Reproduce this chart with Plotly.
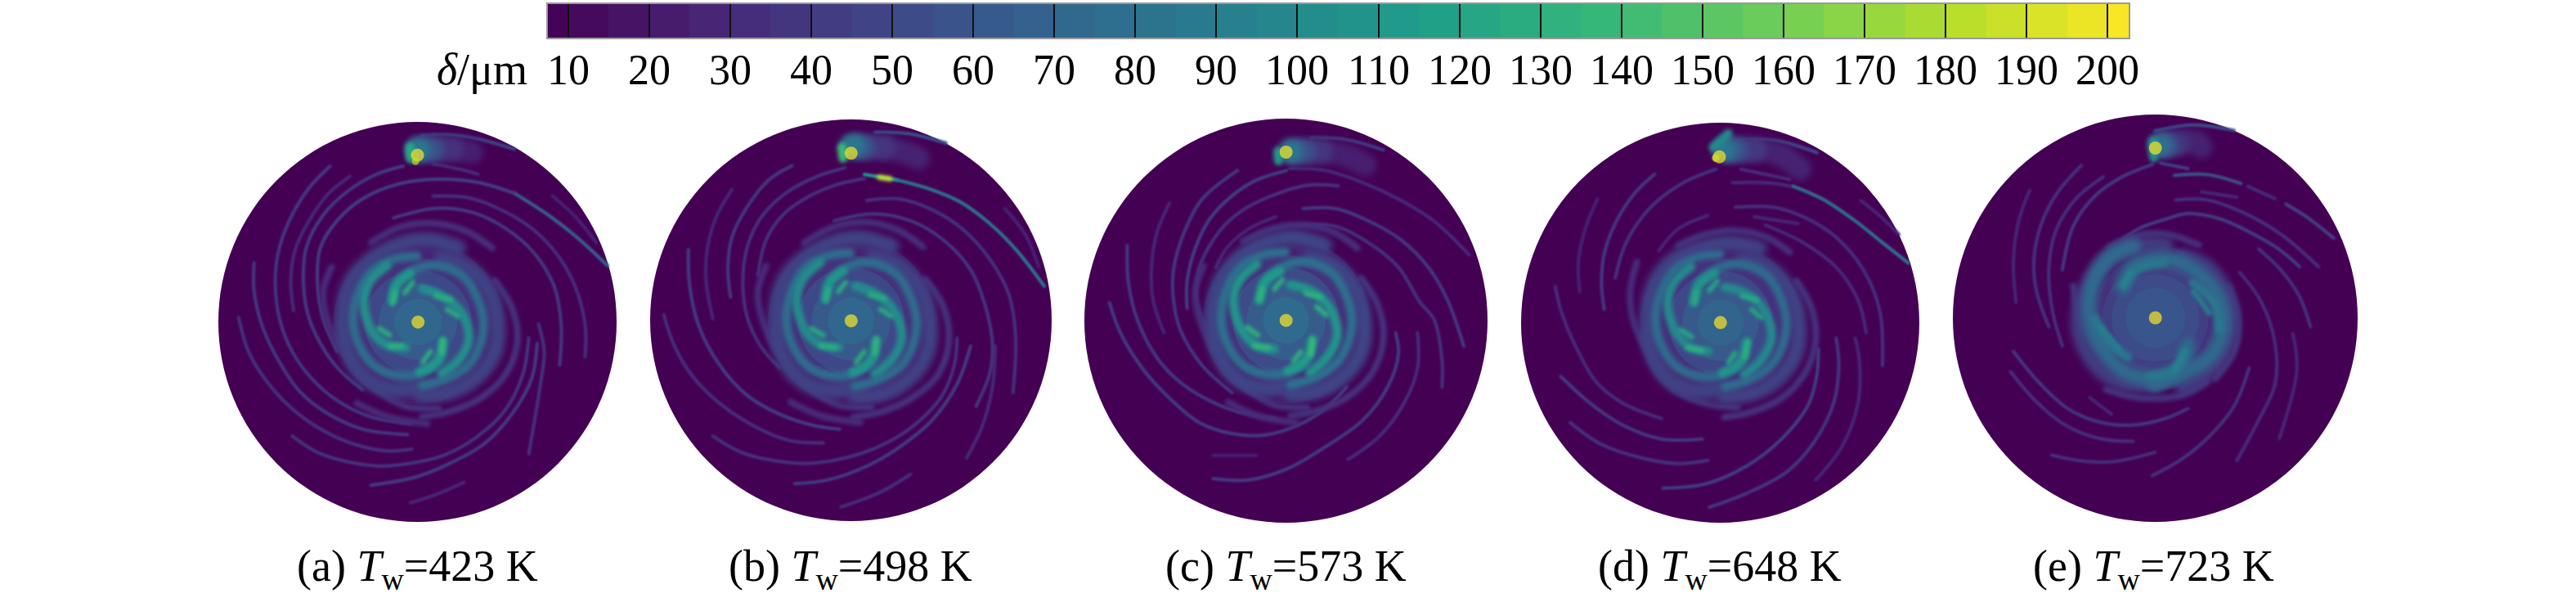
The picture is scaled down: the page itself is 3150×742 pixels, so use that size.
import plotly.graph_objects as go
from plotly.colors import sample_colorscale

# colour bar
tick_values = [10, 20, 30, 40, 50, 60, 70, 80, 90, 100, 110, 120, 130, 140, 150, 160, 170, 180, 190, 200]
tick_labels = [str(v) for v in tick_values]
captions = ["(a) <i>T</i><sub>w</sub>=423 K", "(b) <i>T</i><sub>w</sub>=498 K", "(c) <i>T</i><sub>w</sub>=573 K",
            "(d) <i>T</i><sub>w</sub>=648 K", "(e) <i>T</i><sub>w</sub>=723 K"]
caption_centres_px = [510, 1040, 1572, 2103, 2633]
delta_min, delta_max = 7.4, 202.7

# where each disc sits in the page, and the extent of the disc in the units the curves were read in
disc_px = [(267, 754, 149, 638), (795, 1286, 146, 637), (1326, 1819, 145, 639), (1860, 2347, 150, 639), (2388, 2883, 140, 638)]
disc_units = [(78, 1492, 58, 1525), (45, 1517, 48, 1522), (18, 1497, 15, 1497), (25, 1485, 30, 1497), (18, 1503, 12, 1505)]
centres = [(787, 792), (782, 787), (758, 755), (756, 763), (761, 757)]

# film thickness of the central patch, outer to inner
a_glow_r = [300, 270, 235, 190, 140, 85]
a_glow_v = [20, 26, 36, 50, 62, 72]
b_glow_r = [305, 275, 240, 195, 145, 85]
b_glow_v = [20, 26, 36, 50, 62, 72]
c_glow_r = [305, 275, 240, 195, 145, 85]
c_glow_v = [20, 26, 36, 52, 64, 74]
d_glow_r = [295, 265, 235, 190, 140, 85]
d_glow_v = [20, 26, 36, 50, 62, 70]
e_glow_r = [265, 230, 195, 160, 110]
e_glow_v = [24, 34, 44, 52, 60]

# (x, y, thickness)
a_dots = [(785, 180, 202), (787, 792, 202), (778, 203, 185)]
# (thickness, points)
a_comet = [(24, [(790, 160), (880, 155), (978, 170)]), (36, [(790, 158), (908, 158)]), (58, [(790, 160), (838, 160)]), (84, [(786, 160), (790, 160)])]
a_head = [(125, [(758, 150), (760, 192)])]
a_streaks = [
    (46, [(800, 108), (900, 105), (1000, 120), (1130, 158)]), (32, [(840, 212), (950, 235), (1000, 250)]),
    (70, [(1130, 320), (1250, 400), (1350, 480), (1460, 585)]),
    (36, [(150, 775), (185, 900), (250, 1010), (340, 1110), (450, 1190), (560, 1240), (680, 1265), (765, 1258)]),
    (40, [(205, 575), (205, 680), (235, 810), (290, 930), (370, 1050), (470, 1130), (590, 1185), (750, 1205)]),
    (40, [(475, 220), (400, 300), (330, 420), (290, 540), (280, 650), (295, 780), (340, 900), (410, 1000), (500, 1080), (620, 1140), (760, 1165)]),
    (30, [(545, 258), (470, 320), (400, 420), (350, 530), (335, 640), (345, 750)]),
    (42, [(735, 220), (640, 250), (540, 310), (450, 400), (390, 520), (380, 640), (395, 760), (440, 870), (510, 970), (590, 1040)]),
    (44, [(1130, 320), (1000, 280), (860, 268), (720, 285), (590, 340), (500, 420), (440, 520), (430, 650), (450, 780), (500, 900)]),
    (34, [(840, 330), (960, 335), (1060, 370), (1180, 440), (1270, 530), (1340, 650), (1380, 800), (1380, 920)]),
    (26, [(1265, 330), (1340, 400), (1420, 500)]),
    (40, [(700, 410), (850, 375), (980, 390), (1100, 450), (1200, 540), (1270, 660), (1295, 800), (1290, 950)]),
    (42, [(620, 1390), (780, 1360), (900, 1310), (1020, 1240), (1120, 1130), (1190, 1000), (1210, 870)]),
    (36, [(1215, 800), (1235, 900), (1220, 1030), (1180, 1275)]),
    (38, [(340, 1210), (430, 1270), (540, 1305), (650, 1320), (760, 1310), (880, 1280), (1000, 1210), (1100, 1110), (1160, 980), (1180, 850)]),
    (28, [(760, 1455), (850, 1425), (950, 1380)]),
]
a_rings = [
    (34, [(620, 500), (720, 445), (840, 430), (960, 460), (1050, 520)]),
    (36, [(1060, 640), (1120, 740), (1140, 860), (1100, 980), (1010, 1070), (900, 1120), (800, 1140)]),
    (36, [(520, 830), (560, 950), (640, 1040), (740, 1100), (860, 1110)]),
    (32, [(480, 590), (450, 680), (470, 800), (520, 900)]),
    (32, [(570, 1090), (680, 1140), (820, 1165)]),
]
a_bands = [
    (46, [(802, 1025), (700, 1040), (600, 1000), (535, 900), (520, 770), (545, 650), (610, 570), (710, 510), (820, 490), (930, 520)]),
    (46, [(870, 560), (960, 590), (1040, 680), (1070, 790), (1060, 900), (1000, 990), (900, 1050), (800, 1060)]),
]
a_arms = [
    (76, [(696, 710), (711, 650), (773, 600), (860, 585), (947, 625), (996, 700), (1020, 790), (1006, 880), (967, 950), (890, 1000), (802, 1025)]),
    (76, [(870, 875), (860, 930), (793, 980), (706, 985), (628, 950), (570, 860), (556, 780), (575, 680), (628, 600), (706, 560), (783, 550)]),
    (104, [(802, 670), (860, 690), (918, 730), (957, 790), (967, 860), (933, 930), (870, 980)]),
    (104, [(744, 885), (686, 880), (633, 840), (604, 780), (595, 710), (619, 640), (677, 585)]),
    (112, [(696, 710), (711, 655), (759, 615)]),
    (112, [(875, 860), (870, 910), (841, 950), (793, 975)]),
]
a_cores = [(132, [(696, 725), (706, 680)]), (128, [(740, 685), (769, 645)]), (130, [(851, 695), (904, 710)]), (128, [(890, 745), (928, 770)]),
           (138, [(875, 860), (870, 905)]), (130, [(803, 940), (831, 900)]), (132, [(686, 880), (730, 880)]), (130, [(648, 815), (686, 840)])]

b_dots = [(782, 172, 202), (782, 787, 202)]
b_comet = [(26, [(800, 150), (950, 160), (1028, 190)]), (38, [(800, 148), (903, 150)]), (58, [(800, 148), (828, 150)]), (84, [(782, 145), (793, 145)])]
b_head = [(140, [(748, 150), (752, 190)])]
b_streaks = [
    (54, [(870, 95), (990, 100), (1130, 135)]), (115, [(830, 250), (880, 258), (950, 270)]),
    (84, [(950, 270), (1060, 300), (1180, 350), (1290, 430), (1390, 530), (1490, 660)]),
    (40, [(565, 218), (480, 270), (400, 370), (345, 480), (330, 600), (340, 700)]),
    (28, [(345, 305), (290, 400), (255, 520), (250, 640), (275, 780)]),
    (34, [(95, 765), (130, 870), (200, 990), (300, 1090), (420, 1170), (550, 1225), (680, 1235)]),
    (42, [(185, 525), (190, 660), (225, 810), (300, 950), (400, 1060), (520, 1130), (640, 1170), (740, 1185)]),
    (36, [(760, 225), (650, 260), (540, 320), (450, 410), (400, 520), (385, 640), (400, 770), (450, 880), (520, 960)]),
    (36, [(830, 265), (720, 290), (610, 340), (530, 400), (470, 490), (440, 620)]),
    (36, [(275, 1210), (380, 1270), (500, 1300), (620, 1310), (760, 1290), (880, 1250), (1000, 1180), (1110, 1070), (1160, 950), (1170, 850)]),
    (42, [(575, 1385), (700, 1370), (840, 1320), (960, 1250), (1080, 1150), (1170, 1020), (1220, 880)]),
    (34, [(745, 1470), (880, 1420), (1000, 1350)]),
    (30, [(1205, 1290), (1260, 1180), (1300, 1030), (1310, 880)]),
    (36, [(840, 345), (960, 340), (1080, 380), (1190, 450), (1290, 560), (1360, 690), (1385, 850), (1375, 1050)]),
    (26, [(1345, 375), (1420, 470), (1470, 590)]),
    (38, [(720, 420), (860, 395), (1000, 420), (1120, 490), (1220, 600), (1270, 720), (1300, 870), (1290, 980), (1240, 1100)]),
]
b_rings = [
    (34, [(610, 500), (710, 445), (830, 425), (955, 455), (1045, 515)]),
    (36, [(1055, 635), (1120, 735), (1140, 860), (1100, 985), (1005, 1070), (895, 1120), (790, 1140)]),
    (36, [(505, 825), (545, 950), (630, 1035), (730, 1095), (855, 1105)]),
    (32, [(470, 585), (440, 680), (460, 795), (510, 900)]),
    (32, [(560, 1085), (670, 1135), (815, 1160)]),
]
b_bands = [
    (46, [(797, 1027), (690, 1042), (590, 1000), (522, 898), (507, 765), (532, 645), (600, 563), (702, 503), (815, 483), (930, 513)]),
    (46, [(865, 553), (958, 584), (1040, 677), (1071, 790), (1061, 903), (1000, 995), (895, 1057), (797, 1063)]),
]
b_arms = [
    (76, [(688, 703), (704, 641), (768, 589), (857, 574), (947, 615), (997, 692), (1022, 785), (1008, 878), (967, 950), (888, 1001), (797, 1027)]),
    (76, [(868, 872), (857, 929), (788, 981), (699, 986), (618, 950), (558, 857), (544, 775), (564, 672), (618, 589), (699, 548), (778, 538)]),
    (102, [(798, 660), (857, 680), (917, 722), (957, 785), (967, 857), (932, 929), (868, 981)]),
    (102, [(737, 883), (677, 878), (623, 837), (593, 775), (582, 703), (607, 631), (668, 574)]),
    (110, [(688, 703), (704, 645), (752, 605)]),
    (110, [(873, 857), (868, 908), (838, 950), (788, 976)]),
]
b_cores = [(128, [(688, 715), (698, 672)]), (126, [(735, 680), (762, 645)]), (128, [(850, 690), (905, 705)]), (126, [(890, 745), (930, 770)]),
           (136, [(875, 855), (868, 905)]), (128, [(800, 940), (830, 900)]), (130, [(670, 878), (725, 885)]), (126, [(635, 815), (680, 840)]),
           (190, [(885, 260), (925, 266)])]

c_dots = [(758, 138, 202), (758, 755, 202)]
c_comet = [(24, [(800, 135), (960, 145), (1048, 185)]), (38, [(790, 135), (888, 135)]), (58, [(785, 135), (823, 135)]), (84, [(772, 135), (776, 135)])]
c_head = [(112, [(728, 135), (730, 170)])]
c_streaks = [
    (42, [(850, 85), (980, 92), (1115, 130)]),
    (40, [(580, 205), (450, 310), (385, 430), (345, 570), (345, 680), (370, 790), (450, 920), (560, 1020)]),
    (28, [(330, 325), (285, 430), (265, 550), (270, 680), (310, 800)]),
    (40, [(175, 480), (180, 620), (215, 760), (290, 900), (380, 990), (500, 1060), (620, 1100), (720, 1115)]),
    (42, [(110, 690), (150, 800), (230, 930), (330, 1040), (440, 1130), (560, 1170), (680, 1175), (800, 1140), (900, 1080), (980, 1000)]),
    (44, [(760, 205), (650, 240), (570, 290), (480, 380), (425, 490), (395, 610), (395, 710)]),
    (36, [(950, 262), (830, 260), (700, 300), (600, 350), (520, 420), (440, 560), (430, 680), (470, 790)]),
    (28, [(720, 375), (620, 420), (540, 490), (500, 560)]),
    (30, [(770, 198), (900, 205), (1040, 250), (1170, 310), (1300, 390), (1430, 515)]),
    (40, [(820, 345), (940, 345), (1060, 390), (1180, 460), (1280, 560), (1350, 680), (1410, 850)]),
    (36, [(800, 405), (940, 410), (1060, 470), (1170, 560), (1250, 690), (1300, 750), (1330, 900), (1330, 1000)]),
    (24, [(490, 1250), (650, 1250)]),
    (42, [(490, 1335), (620, 1340), (760, 1300), (900, 1220), (1040, 1120), (1130, 1000), (1170, 880), (1160, 800)]),
    (32, [(985, 1265), (1100, 1180), (1190, 1060), (1240, 930), (1240, 800)]),
]
c_rings = [
    (34, [(600, 465), (700, 420), (810, 405), (930, 430), (1020, 490)]),
    (36, [(1035, 600), (1095, 700), (1115, 820), (1075, 945), (985, 1035), (875, 1085), (775, 1105)]),
    (36, [(495, 795), (535, 915), (615, 1005), (715, 1065), (835, 1075)]),
    (32, [(455, 555), (425, 650), (445, 765), (495, 865)]),
    (32, [(545, 1055), (655, 1105), (795, 1130)]),
]
c_bands = [
    (48, [(775, 990), (670, 1005), (570, 965), (505, 865), (490, 735), (515, 615), (580, 530), (680, 470), (790, 450), (900, 480)]),
    (48, [(845, 525), (935, 555), (1015, 645), (1045, 755), (1035, 865), (975, 955), (875, 1015), (775, 1025)]),
]
c_arms = [
    (78, [(660, 680), (675, 615), (740, 560), (830, 540), (925, 580), (975, 655), (1000, 750), (985, 840), (945, 910), (865, 965), (775, 990)]),
    (78, [(845, 840), (835, 895), (765, 945), (675, 950), (595, 915), (535, 825), (520, 740), (540, 640), (595, 555), (675, 515), (755, 505)]),
    (108, [(775, 625), (835, 640), (895, 680), (935, 745), (945, 815), (905, 895), (845, 945)]),
    (108, [(715, 860), (655, 850), (605, 805), (575, 745), (565, 675), (590, 605), (650, 550)]),
    (114, [(660, 680), (680, 615), (735, 575)]),
    (114, [(855, 825), (845, 875), (815, 915), (765, 940)]),
]
c_cores = [(134, [(660, 680), (670, 640)]), (130, [(715, 640), (745, 605)]), (134, [(830, 655), (885, 670)]), (132, [(870, 705), (905, 735)]),
           (140, [(855, 825), (848, 880)]), (132, [(785, 905), (812, 870)]), (136, [(640, 848), (695, 855)]), (132, [(615, 780), (655, 810)])]

d_dots = [(752, 155, 202), (756, 763, 202), (738, 160, 190)]
d_comet = [(26, [(800, 130), (960, 140), (1048, 200)]), (40, [(790, 130), (883, 130)]), (60, [(785, 130), (813, 130)]), (84, [(768, 130), (772, 130)])]
d_head = [(100, [(730, 120), (785, 70)])]
d_streaks = [
    (52, [(800, 95), (960, 95), (1110, 140)]), (32, [(830, 200), (1010, 238)]),
    (82, [(1020, 262), (1130, 310), (1250, 390), (1350, 470), (1445, 545)]),
    (28, [(1270, 315), (1350, 380), (1410, 440)]),
    (40, [(515, 218), (440, 290), (370, 400), (330, 510), (320, 620), (330, 715)]),
    (26, [(305, 310), (260, 420), (235, 540), (240, 650)]),
    (32, [(150, 630), (175, 730), (230, 860), (300, 980), (400, 1060), (540, 1115)]),
    (40, [(170, 960), (280, 1060), (400, 1140), (540, 1190), (690, 1190)]),
    (36, [(205, 1130), (320, 1210), (470, 1260), (600, 1280), (710, 1268)]),
    (36, [(740, 200), (620, 250), (500, 340), (410, 470), (370, 600)]),
    (30, [(800, 250), (920, 250), (1010, 262)]),
    (34, [(810, 340), (950, 340), (1070, 380), (1180, 450), (1280, 570), (1340, 720), (1350, 920)]),
    (28, [(710, 370), (600, 420), (530, 500)]),
    (28, [(880, 375), (1040, 400)]),
    (30, [(920, 405), (1060, 470), (1180, 560), (1260, 680), (1290, 800)]),
    (44, [(545, 1370), (700, 1355), (850, 1290), (980, 1190), (1080, 1060), (1110, 950), (1115, 860)]),
    (38, [(715, 1440), (850, 1390), (1000, 1310), (1100, 1200), (1170, 1060), (1190, 920), (1180, 820)]),
    (28, [(1105, 1340), (1200, 1220), (1260, 1060), (1265, 900), (1250, 820)]),
]
d_rings = [
    (34, [(600, 480), (700, 440), (810, 425), (925, 450), (1010, 505)]),
    (36, [(1035, 610), (1090, 710), (1105, 830), (1065, 950), (980, 1040), (870, 1090), (770, 1110)]),
    (36, [(470, 800), (510, 920), (590, 1010), (700, 1060), (820, 1075)]),
    (32, [(450, 540), (425, 650), (440, 770), (490, 870)]),
]
d_bands = [
    (46, [(773, 998), (668, 1013), (568, 973), (503, 873), (488, 743), (513, 623), (578, 538), (678, 490), (788, 470), (898, 490)]),
    (46, [(843, 533), (933, 563), (1013, 653), (1043, 763), (1033, 873), (973, 963), (873, 1023), (773, 1033)]),
]
d_arms = [
    (74, [(658, 688), (673, 623), (738, 568), (828, 548), (923, 588), (973, 663), (998, 758), (983, 848), (943, 918), (863, 973), (773, 998)]),
    (74, [(843, 848), (833, 903), (763, 953), (673, 958), (593, 923), (533, 833), (518, 748), (538, 648), (593, 563), (673, 523), (753, 513)]),
    (100, [(773, 633), (833, 648), (893, 688), (933, 753), (943, 823), (903, 903), (843, 953)]),
    (100, [(713, 868), (653, 858), (603, 813), (573, 753), (563, 683), (588, 613), (648, 558)]),
    (108, [(658, 688), (678, 623), (733, 583)]),
    (108, [(853, 833), (843, 883), (813, 923), (763, 948)]),
]
d_cores = [(124, [(660, 690), (668, 650)]), (122, [(715, 645), (745, 610)]), (126, [(835, 665), (890, 680)]), (122, [(870, 715), (905, 745)]),
           (130, [(855, 835), (845, 890)]), (124, [(785, 910), (810, 875)]), (132, [(635, 855), (690, 865)]), (124, [(610, 790), (650, 815)])]

e_dots = [(761, 135, 202), (761, 757, 202)]
e_comet = [(26, [(800, 115), (905, 110), (928, 130)]), (36, [(790, 120), (848, 120)]), (54, [(785, 125), (808, 125)]), (78, [(778, 125), (782, 125)])]
e_head = [(104, [(752, 110), (755, 170)])]
e_streaks = [
    (54, [(760, 72), (900, 50), (1050, 70)]), (44, [(780, 190), (880, 210)]),
    (58, [(830, 235), (950, 232), (1075, 265)]), (32, [(1100, 275), (1200, 320)]), (46, [(1240, 340), (1320, 390), (1415, 465)]),
    (28, [(930, 295), (1060, 315)]),
    (36, [(490, 198), (400, 300), (340, 420), (315, 550), (325, 660), (370, 790)]),
    (28, [(300, 290), (260, 400), (240, 550), (250, 700)]),
    (40, [(750, 195), (640, 240), (540, 310), (460, 420), (420, 580)]),
    (34, [(570, 240), (470, 320), (395, 440), (370, 580), (385, 740), (420, 860)]),
    (38, [(240, 880), (330, 990), (440, 1090), (560, 1140), (680, 1150), (800, 1125), (880, 1090)]),
    (34, [(230, 955), (320, 1060), (430, 1150), (560, 1200), (680, 1210)]),
    (28, [(520, 1050), (600, 1110)]),
    (34, [(380, 1260), (480, 1280), (600, 1285), (760, 1250)]),
    (34, [(835, 325), (950, 325), (1080, 370), (1220, 450), (1360, 570)]),
    (42, [(640, 470), (700, 430), (800, 395), (880, 375), (1000, 395), (1120, 450), (1220, 510), (1290, 570)]),
    (36, [(1140, 505), (1220, 580), (1290, 680), (1330, 790)]),
    (32, [(1070, 590), (1150, 700), (1200, 850), (1200, 1000), (1130, 1150), (1060, 1280)]),
    (28, [(1265, 815), (1280, 950), (1215, 1200)]),
    (36, [(1105, 940), (1050, 1080), (950, 1200), (850, 1280), (750, 1335)]),
]
e_rings = [
    (34, [(590, 500), (690, 455), (800, 450), (920, 490)]),
    (36, [(1030, 640), (1065, 760), (1050, 880), (980, 980)]),
    (36, [(460, 640), (490, 790), (560, 900)]),
    (36, [(580, 1020), (700, 1050), (860, 1040), (950, 990)]),
]
e_bands = [
    (42, [(760, 1000), (650, 1000), (560, 950), (490, 840), (480, 740), (520, 620), (590, 530), (690, 490), (800, 490)]),
    (42, [(860, 530), (950, 570), (1020, 670), (1040, 790), (1010, 890), (950, 960), (860, 1010)]),
    (74, [(640, 640), (680, 570), (790, 540), (900, 580), (990, 680), (1010, 790), (960, 900), (860, 960), (760, 1000)]),
    (74, [(880, 860), (850, 940), (760, 980), (640, 950), (560, 860), (520, 760), (530, 640), (590, 540), (680, 495)]),
]
e_arms = [(84, [(650, 640), (690, 580), (790, 555)]), (84, [(900, 630), (980, 710), (995, 800)]),
          (84, [(870, 880), (830, 950), (740, 970)]), (84, [(540, 760), (590, 850), (660, 900)])]
e_cores = [(94, [(640, 640), (670, 590)]), (94, [(900, 660), (960, 740)]), (94, [(870, 880), (830, 950)]), (92, [(560, 790), (630, 870)])]

# stroke widths in px
BAND_W, ARM_W, RING_W, CORE_W, COMET_W, STREAK_W = 19, 11, 8, 6, 28, 4
DOT_SIZE, SPOT_SIZE = 16, 9
BG_VALUE = delta_min


def shade(v):
    t = (min(v, delta_max) - delta_min) / (delta_max - delta_min)
    return sample_colorscale("Viridis", [t])[0]


# stepped scale for the bar: a new shade every 5 um
edges = [delta_min] + [v + k for v in tick_values[:-1] for k in (0, 5)] + [200, delta_max]
stepped = []
for lo, hi in zip(edges[:-1], edges[1:]):
    col = shade((lo + hi) / 2)
    stepped.append([(lo - delta_min) / (delta_max - delta_min), col])
    stepped.append([(hi - delta_min) / (delta_max - delta_min), col])

panels = [
    (a_glow_r, a_glow_v, a_rings, a_bands, a_arms, a_cores, a_streaks, a_comet, a_head, a_dots),
    (b_glow_r, b_glow_v, b_rings, b_bands, b_arms, b_cores, b_streaks, b_comet, b_head, b_dots),
    (c_glow_r, c_glow_v, c_rings, c_bands, c_arms, c_cores, c_streaks, c_comet, c_head, c_dots),
    (d_glow_r, d_glow_v, d_rings, d_bands, d_arms, d_cores, d_streaks, d_comet, d_head, d_dots),
    (e_glow_r, e_glow_v, e_rings, e_bands, e_arms, e_cores, e_streaks, e_comet, e_head, e_dots),
]

W, H = 3150, 742
BAR_LEFT, BAR_LEN = 669, 1935
fig = go.Figure()
shapes = []


def stroke(pts, color, width, xa, ya):
    fig.add_trace(go.Scatter(
        x=[p[0] for p in pts], y=[p[1] for p in pts], xaxis=xa, yaxis=ya, mode="lines",
        line=dict(color=color, width=width, shape="spline", smoothing=1.0),
        hoverinfo="skip", showlegend=False,
    ))


for i, (glow_r, glow_v, rings, bands, arms, cores, streaks, comet, head, dots) in enumerate(panels):
    n = "" if i == 0 else str(i + 1)
    xa, ya = "x" + n, "y" + n
    left, right, top, bottom = disc_px[i]
    x0, x1, y0, y1 = disc_units[i]
    cx, cy = centres[i]

    fig.layout["xaxis" + n] = dict(domain=[left / W, right / W], range=[x0, x1], visible=False, anchor=ya, fixedrange=True)
    fig.layout["yaxis" + n] = dict(domain=[1 - bottom / H, 1 - top / H], range=[y1, y0], visible=False, anchor=xa, fixedrange=True)

    # the wafer and the film patch on it
    shapes.append(dict(type="circle", xref=xa, yref=ya, x0=x0, x1=x1, y0=y0, y1=y1, layer="below",
                       fillcolor=shade(BG_VALUE), line=dict(width=0)))
    for r, v in zip(glow_r, glow_v):
        shapes.append(dict(type="circle", xref=xa, yref=ya, x0=cx - r, x1=cx + r, y0=cy - r, y1=cy + r, layer="below",
                           fillcolor=shade(v), line=dict(width=0)))

    for group, width in ((streaks, STREAK_W), (rings, RING_W), (bands, BAND_W), (arms, ARM_W), (cores, CORE_W), (comet, COMET_W), (head, ARM_W)):
        for v, pts in group:
            stroke(pts, shade(v), width, xa, ya)

    fig.add_trace(go.Scatter(
        x=[d[0] for d in dots], y=[d[1] for d in dots], xaxis=xa, yaxis=ya, mode="markers",
        marker=dict(size=[DOT_SIZE if d[2] >= 200 else SPOT_SIZE for d in dots], color=[shade(d[2]) for d in dots], line=dict(width=0)),
        hoverinfo="skip", showlegend=False,
    ))

# carrier for the colour bar
fig.add_trace(go.Scatter(
    x=[None], y=[None], mode="markers", showlegend=False, hoverinfo="skip",
    marker=dict(
        color=[delta_min], cmin=delta_min, cmax=delta_max, colorscale=stepped, showscale=True,
        colorbar=dict(
            orientation="h", x=BAR_LEFT / W, xanchor="left", xref="paper", y=1 - 4 / H, yanchor="top", yref="paper",
            lenmode="pixels", len=BAR_LEN, thicknessmode="pixels", thickness=43, xpad=0, ypad=0,
            tickmode="array", tickvals=tick_values, showticklabels=False, ticks="inside", ticklen=43,
            tickcolor="#111111", tickwidth=2, outlinecolor="#999999", outlinewidth=2, borderwidth=0,
        ),
    ),
))

serif = dict(family="Liberation Serif", color="black")
annotations = [dict(text=t, x=c / W, y=1 - 695 / H, xref="paper", yref="paper", xanchor="center", yanchor="middle",
                    showarrow=False, font=dict(size=54, **serif))
               for t, c in zip(captions, caption_centres_px)]
annotations.append(dict(text="<i>δ</i>/μm", x=647 / W, y=1 - 85 / H, xref="paper", yref="paper", xanchor="right",
                        yanchor="middle", showarrow=False, font=dict(size=54, **serif)))
for v, label in zip(tick_values, tick_labels):
    px = BAR_LEFT + (v - delta_min) / (delta_max - delta_min) * BAR_LEN
    annotations.append(dict(text=label, x=px / W, y=1 - 85 / H, xref="paper", yref="paper", xanchor="center",
                            yanchor="middle", showarrow=False, font=dict(size=52, **serif)))

fig.update_layout(
    width=W, height=H, margin=dict(l=0, r=0, t=0, b=0, autoexpand=False),
    paper_bgcolor="white", plot_bgcolor="rgba(0,0,0,0)", shapes=shapes, annotations=annotations, showlegend=False,
)

# no page margin; soft round-ended strokes, since the original is a smoothed field
soften = """
document.body.style.margin = '0';
document.querySelectorAll('.scatterlayer path.js-line').forEach(function (p) {
    var w = parseFloat(p.style.strokeWidth);
    var b = w <= 4 ? 1.1 : (w <= 6 ? 2.2 : Math.min(w * 0.25, 4));
    p.style.strokeLinecap = 'round';
    p.style.filter = 'blur(' + b + 'px)';
});
document.querySelectorAll('.layer-below .shapelayer path').forEach(function (p) {
    if (p.style.fill !== 'rgb(68, 1, 84)') { p.style.filter = 'blur(8px)'; }
});
document.querySelectorAll('.scatterlayer path.point').forEach(function (p) { p.style.filter = 'blur(0.5px)'; });
"""
fig.write_html("out.html", config=dict(displayModeBar=False), post_script=soften)
